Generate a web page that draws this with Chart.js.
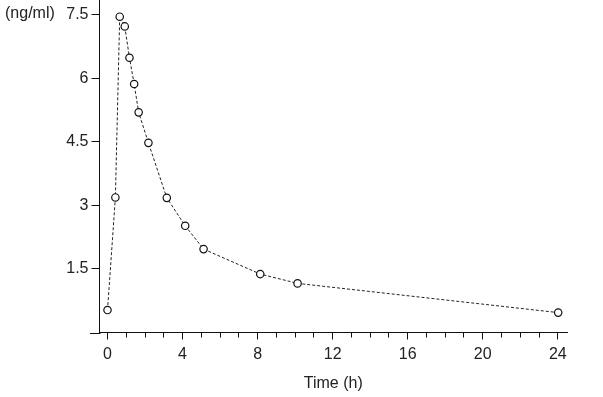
<!DOCTYPE html>
<html><head><meta charset="utf-8">
<script src="https://cdn.jsdelivr.net/npm/chart.js@4/dist/chart.umd.min.js"></script>
<style>html,body{margin:0;padding:0;background:#fff;overflow:hidden}</style>
</head><body>
<canvas id="c" width="603" height="397" style="display:block;width:603px;height:397px"></canvas>
<script>
// ---- data ----
const timeHours = [0, 0.42, 0.65, 0.92, 1.17, 1.42, 1.66, 2.18, 3.16, 4.14, 5.12, 8.14, 10.13, 24.02];
const concentration = [0.53, 3.19, 7.46, 7.23, 6.49, 5.87, 5.2, 4.48, 3.18, 2.52, 1.97, 1.38, 1.16, 0.47];
const yTickValues = [1.5, 3, 4.5, 6, 7.5];
const xMajorTicks = [0, 4, 8, 12, 16, 20, 24];
const xMinorTicks = [0,1,2,3,4,5,6,7,8,9,10,11,12,13,14,15,16,17,18,19,20,21,22,23,24];
const yUnitLabel = '(ng/ml)';
const xTitleText = 'Time (h)';

const points = timeHours.map((t, i) => ({x: t, y: concentration[i]}));
const FONT = {family: '"Liberation Sans", Arial, sans-serif', size: 16};
const INK = '#222';

const decorPlugin = {
  id: 'decor',
  afterDraw(chart) {
    const ctx = chart.ctx;
    const xs = chart.scales.x, ys = chart.scales.y;
    ctx.save();
    // x axis line continues a little to the left of the y axis
    ctx.strokeStyle = '#111';
    ctx.lineWidth = 1;
    ctx.beginPath();
    const yb = Math.round(chart.chartArea.bottom) + 0.5;
    ctx.moveTo(xs.getPixelForValue(-0.93), yb);
    ctx.lineTo(xs.left + 1, yb);
    ctx.stroke();
    // unit label at top left
    ctx.font = '16px "Liberation Sans", Arial, sans-serif';
    ctx.fillStyle = INK;
    ctx.textAlign = 'left';
    ctx.textBaseline = 'middle';
    ctx.fillText(yUnitLabel, 5, ys.getPixelForValue(7.5) - 1);
    ctx.restore();
  }
};

new Chart(document.getElementById('c'), {
  type: 'scatter',
  data: {
    datasets: [{
      data: points,
      showLine: true,
      borderColor: '#222',
      borderWidth: 1,
      borderDash: [3, 2],
      tension: 0,
      pointRadius: 3.7,
      pointHoverRadius: 3.7,
      pointBackgroundColor: '#fff',
      pointBorderColor: '#111',
      pointBorderWidth: 1.2,
      xAxisID: 'x',
      yAxisID: 'y'
    }]
  },
  options: {
    responsive: false,
    animation: false,
    events: [],
    layout: {autoPadding: false, padding: {left: 0, right: 36, top: 0, bottom: 0}},
    plugins: {legend: {display: false}, tooltip: {enabled: false}},
    scales: {
      x: {
        type: 'linear',
        position: 'bottom',
        min: -0.427,
        max: 24.49,
        afterBuildTicks: s => { s.ticks = xMajorTicks.map(v => ({value: v})); },
        afterFit: s => { s.height = 64.5; s.paddingLeft = 0; s.paddingRight = 0; },
        grid: {drawOnChartArea: false, tickLength: 7, tickColor: '#111', tickWidth: 1},
        border: {display: true, color: '#111', width: 1},
        ticks: {font: FONT, color: INK, padding: 5, maxRotation: 0},
        title: {display: true, text: xTitleText, font: FONT, color: INK, padding: {top: 0, bottom: 4}}
      },
      xMinor: {
        type: 'linear',
        axis: 'x',
        position: {y: 0},
        min: -0.427,
        max: 24.49,
        afterBuildTicks: s => { s.ticks = xMinorTicks.map(v => ({value: v})); },
        grid: {drawOnChartArea: false, tickLength: 4.5, tickColor: '#111', tickWidth: 1},
        border: {display: false},
        ticks: {display: false}
      },
      y: {
        type: 'linear',
        position: 'left',
        min: 0,
        max: 7.854,
        afterBuildTicks: s => { s.ticks = yTickValues.map(v => ({value: v})); },
        afterFit: s => { s.width = 99.5; s.paddingTop = 0; s.paddingBottom = 0; },
        grid: {drawOnChartArea: false, tickLength: 8, tickColor: '#111', tickWidth: 1},
        border: {display: true, color: '#111', width: 1},
        ticks: {font: FONT, color: INK, padding: 3}
      }
    }
  },
  plugins: [decorPlugin]
});
</script>
</body></html>
